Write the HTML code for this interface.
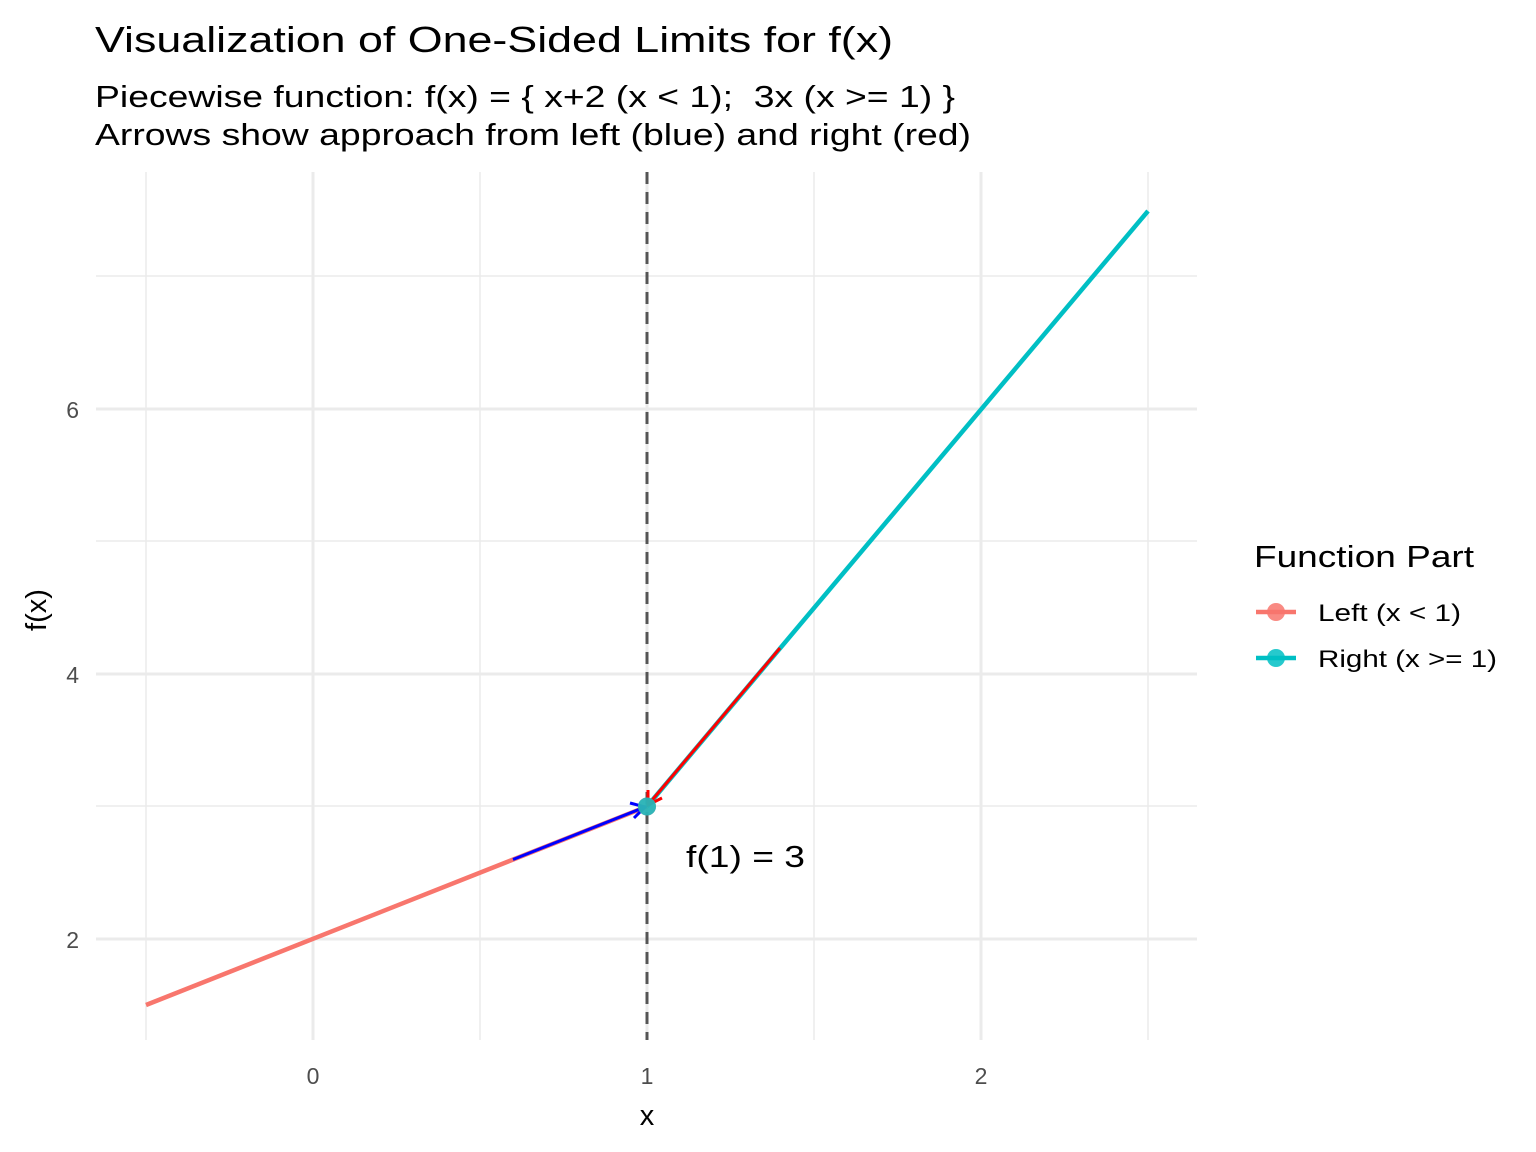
<!DOCTYPE html>
<html><head><meta charset="utf-8"><style>body{margin:0;background:#fff}svg{display:block}</style></head><body>
<svg width="1536" height="1152" viewBox="0 0 1536 1152" xmlns="http://www.w3.org/2000/svg" font-family="Liberation Sans, Arial, sans-serif">
<rect width="1536" height="1152" fill="#fff"/>
<g stroke="#ebebeb" stroke-width="1.5">
<line x1="146" y1="172" x2="146" y2="1040"/><line x1="480" y1="172" x2="480" y2="1040"/><line x1="814" y1="172" x2="814" y2="1040"/><line x1="1148" y1="172" x2="1148" y2="1040"/>
<line x1="96" y1="806" x2="1197" y2="806"/><line x1="96" y1="541" x2="1197" y2="541"/><line x1="96" y1="276" x2="1197" y2="276"/>
</g>
<g stroke="#ebebeb" stroke-width="3">
<line x1="313" y1="172" x2="313" y2="1040"/><line x1="647" y1="172" x2="647" y2="1040"/><line x1="981" y1="172" x2="981" y2="1040"/>
<line x1="96" y1="939" x2="1197" y2="939"/><line x1="96" y1="674" x2="1197" y2="674"/><line x1="96" y1="409" x2="1197" y2="409"/>
</g>
<line x1="647" y1="172" x2="647" y2="1040" stroke="#555" stroke-width="3" stroke-dasharray="12,8"/>
<line x1="146" y1="1005" x2="647" y2="806.5" stroke="#F8766D" stroke-width="4.5"/>
<line x1="647" y1="806.5" x2="1148" y2="211" stroke="#00BFC4" stroke-width="4.5"/>
<line x1="513" y1="859.5" x2="645" y2="807" stroke="#0000ff" stroke-width="3"/>
<polyline points="630,803 645,807 634,818" fill="none" stroke="#0000ff" stroke-width="3"/>
<line x1="780" y1="648" x2="648" y2="805" stroke="#ff0000" stroke-width="3"/>
<polyline points="648,790 648,805 662,798" fill="none" stroke="#ff0000" stroke-width="3"/>
<circle cx="647" cy="806.5" r="9" fill="#F8766D" opacity="0.8"/>
<circle cx="647" cy="806.5" r="9" fill="#00BFC4" opacity="0.8"/>
<text x="686" y="867" font-size="31" textLength="119" lengthAdjust="spacingAndGlyphs">f(1) = 3</text>
<g font-size="23" fill="#4d4d4d" text-anchor="middle">
<text x="313" y="1084">0</text><text x="647" y="1084">1</text><text x="981" y="1084">2</text>
</g>
<g font-size="23" fill="#4d4d4d" text-anchor="end">
<text x="79" y="948">2</text><text x="79" y="683">4</text><text x="79" y="418">6</text>
</g>
<text x="647" y="1125" font-size="29" text-anchor="middle">x</text>
<text transform="translate(46,610) rotate(-90)" font-size="29" text-anchor="middle">f(x)</text>
<text x="95" y="52" font-size="36" textLength="798" lengthAdjust="spacingAndGlyphs">Visualization of One-Sided Limits for f(x)</text>
<text x="95" y="107" font-size="31" textLength="860" lengthAdjust="spacingAndGlyphs" xml:space="preserve">Piecewise function: f(x) = { x+2 (x &lt; 1);  3x (x &gt;= 1) }</text>
<text x="95" y="145" font-size="31" textLength="876" lengthAdjust="spacingAndGlyphs">Arrows show approach from left (blue) and right (red)</text>
<text x="1254" y="567" font-size="31" textLength="220" lengthAdjust="spacingAndGlyphs">Function Part</text>
<line x1="1256" y1="612" x2="1296" y2="612" stroke="#F8766D" stroke-width="4.5"/>
<circle cx="1276" cy="612" r="9" fill="#F8766D" opacity="0.85"/>
<text x="1318" y="621" font-size="24" textLength="143" lengthAdjust="spacingAndGlyphs">Left (x &lt; 1)</text>
<line x1="1256" y1="658" x2="1296" y2="658" stroke="#00BFC4" stroke-width="4.5"/>
<circle cx="1276" cy="658" r="9" fill="#00BFC4" opacity="0.85"/>
<text x="1318" y="667" font-size="24" textLength="179" lengthAdjust="spacingAndGlyphs">Right (x &gt;= 1)</text>
</svg>
</body></html>
